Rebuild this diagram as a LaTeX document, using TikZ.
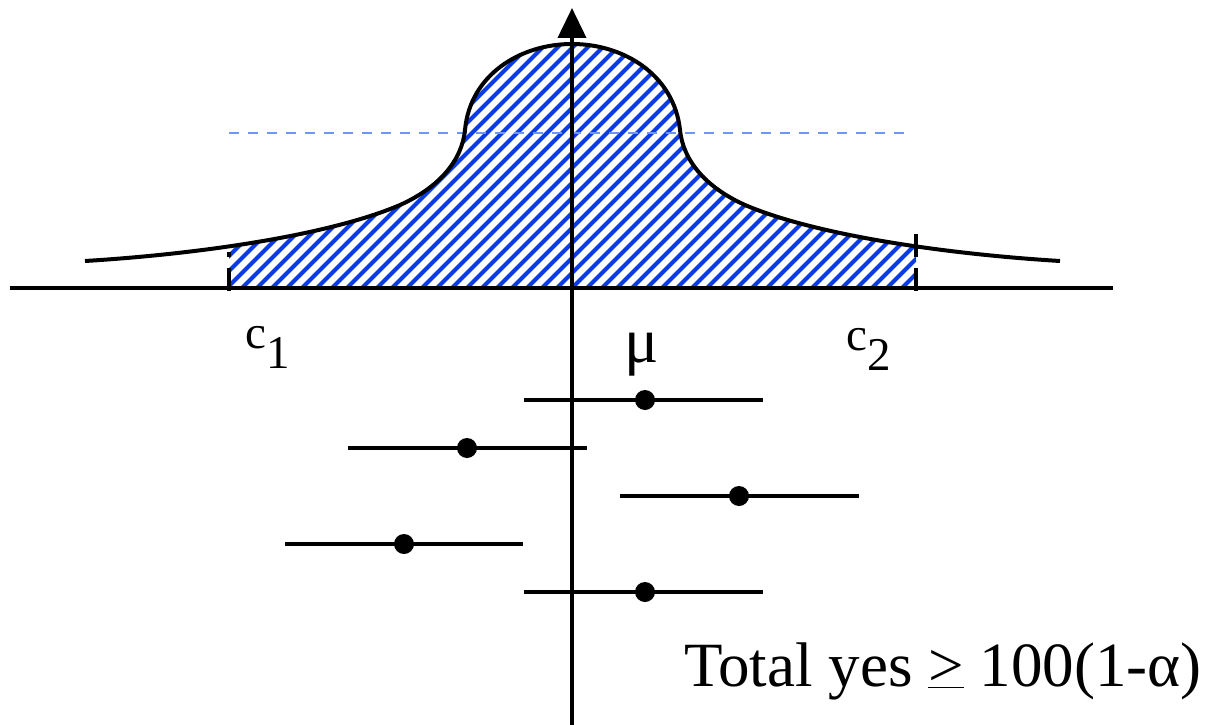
\documentclass[tikz,border=0pt]{standalone}
\usepackage{fontspec}
\setmainfont{Liberation Serif}
\usetikzlibrary{arrows.meta}
\definecolor{hatchblue}{RGB}{10,60,230}
\definecolor{dashblue}{RGB}{110,150,250}
\tikzset{
  axisline/.style={line width=4pt},
  curveline/.style={line width=4pt, line join=round},
  barline/.style={line width=4pt},
  dotnode/.style={circle, fill=black, inner sep=0pt, minimum size=20pt},
  ticklabel/.style={font=\fontsize{47}{50}\selectfont, inner sep=0pt, anchor=base west},
  tickmark/.style={line width=4pt, dash pattern=on 23pt off 11pt},
}
\begin{document}
\begin{tikzpicture}[x=1pt,y=-1pt]
\useasboundingbox (0,0) rectangle (1220,725);
% hatched area
\begin{scope}
  \clip (229,0) rectangle (916,288);
  \clip (85,261) .. controls (200,254) and (330,235) .. (400,205)
        .. controls (440,187) and (462,160) .. (465,130)
        .. controls (470,75) and (520,44) .. (572,44)
        .. controls (624,44) and (674,75) .. (680,130)
        .. controls (683,160) and (705,187) .. (745,205)
        .. controls (815,235) and (945,254) .. (1060,261)
        -- (1060,288) -- (85,288) -- cycle;
  \foreach \i in {-400,-385,...,1000}
    \draw[hatchblue, line width=4.2pt] (\i,300) -- (\i+300,0);
\end{scope}
% dashed horizontal line
\coordinate (dl) at (229,133);
\coordinate (dr) at (905,133);
\draw[dashblue, line width=1.5pt, dash pattern=on 10pt off 9pt] (dl) -- (dr);
% curve
\draw[curveline] (85,261) .. controls (200,254) and (330,235) .. (400,205)
        .. controls (440,187) and (462,160) .. (465,130)
        .. controls (470,75) and (520,44) .. (572,44)
        .. controls (624,44) and (674,75) .. (680,130)
        .. controls (683,160) and (705,187) .. (745,205)
        .. controls (815,235) and (945,254) .. (1060,261);
% axes
\coordinate (xl) at (10,288);
\coordinate (xr) at (1113,288);
\coordinate (yb) at (572,725);
\coordinate (yt) at (572,8);
\draw[axisline] (xl) -- (xr);
\draw[axisline, -{Triangle[length=30pt,width=28pt]}] (yb) -- (yt);
% tick marks
\coordinate (c1b) at (229,291);
\coordinate (c1t) at (229,252);
\coordinate (c2b) at (916,291);
\coordinate (c2t) at (916,233);
\draw[tickmark] (c1b) -- (c1t);
\draw[tickmark] (c2b) -- (c2t);
% labels
\node[ticklabel] (c1) at (245,348) {c\raisebox{-20pt}{1}};
\node[ticklabel] (c2) at (846,350) {c\raisebox{-20pt}{2}};
\node[ticklabel, font=\fontsize{64}{66}\selectfont] (mu) at (624,362) {μ};
\node[ticklabel, font=\fontsize{63}{66}\selectfont] (total) at (684,686) {Total yes \underline{>} 100(1-α)};
% error bars
\foreach \n/\y/\a/\b/\d in {1/400/524/763/645, 2/448/348/587/467, 3/496/620/859/739, 4/544/285/523/404, 5/592/524/763/645} {
  \coordinate (bl\n) at (\a,\y);
  \coordinate (br\n) at (\b,\y);
  \draw[barline] (bl\n) -- (br\n);
  \node[dotnode] (dot\n) at (\d,\y) {};
}
\end{tikzpicture}
\end{document}
